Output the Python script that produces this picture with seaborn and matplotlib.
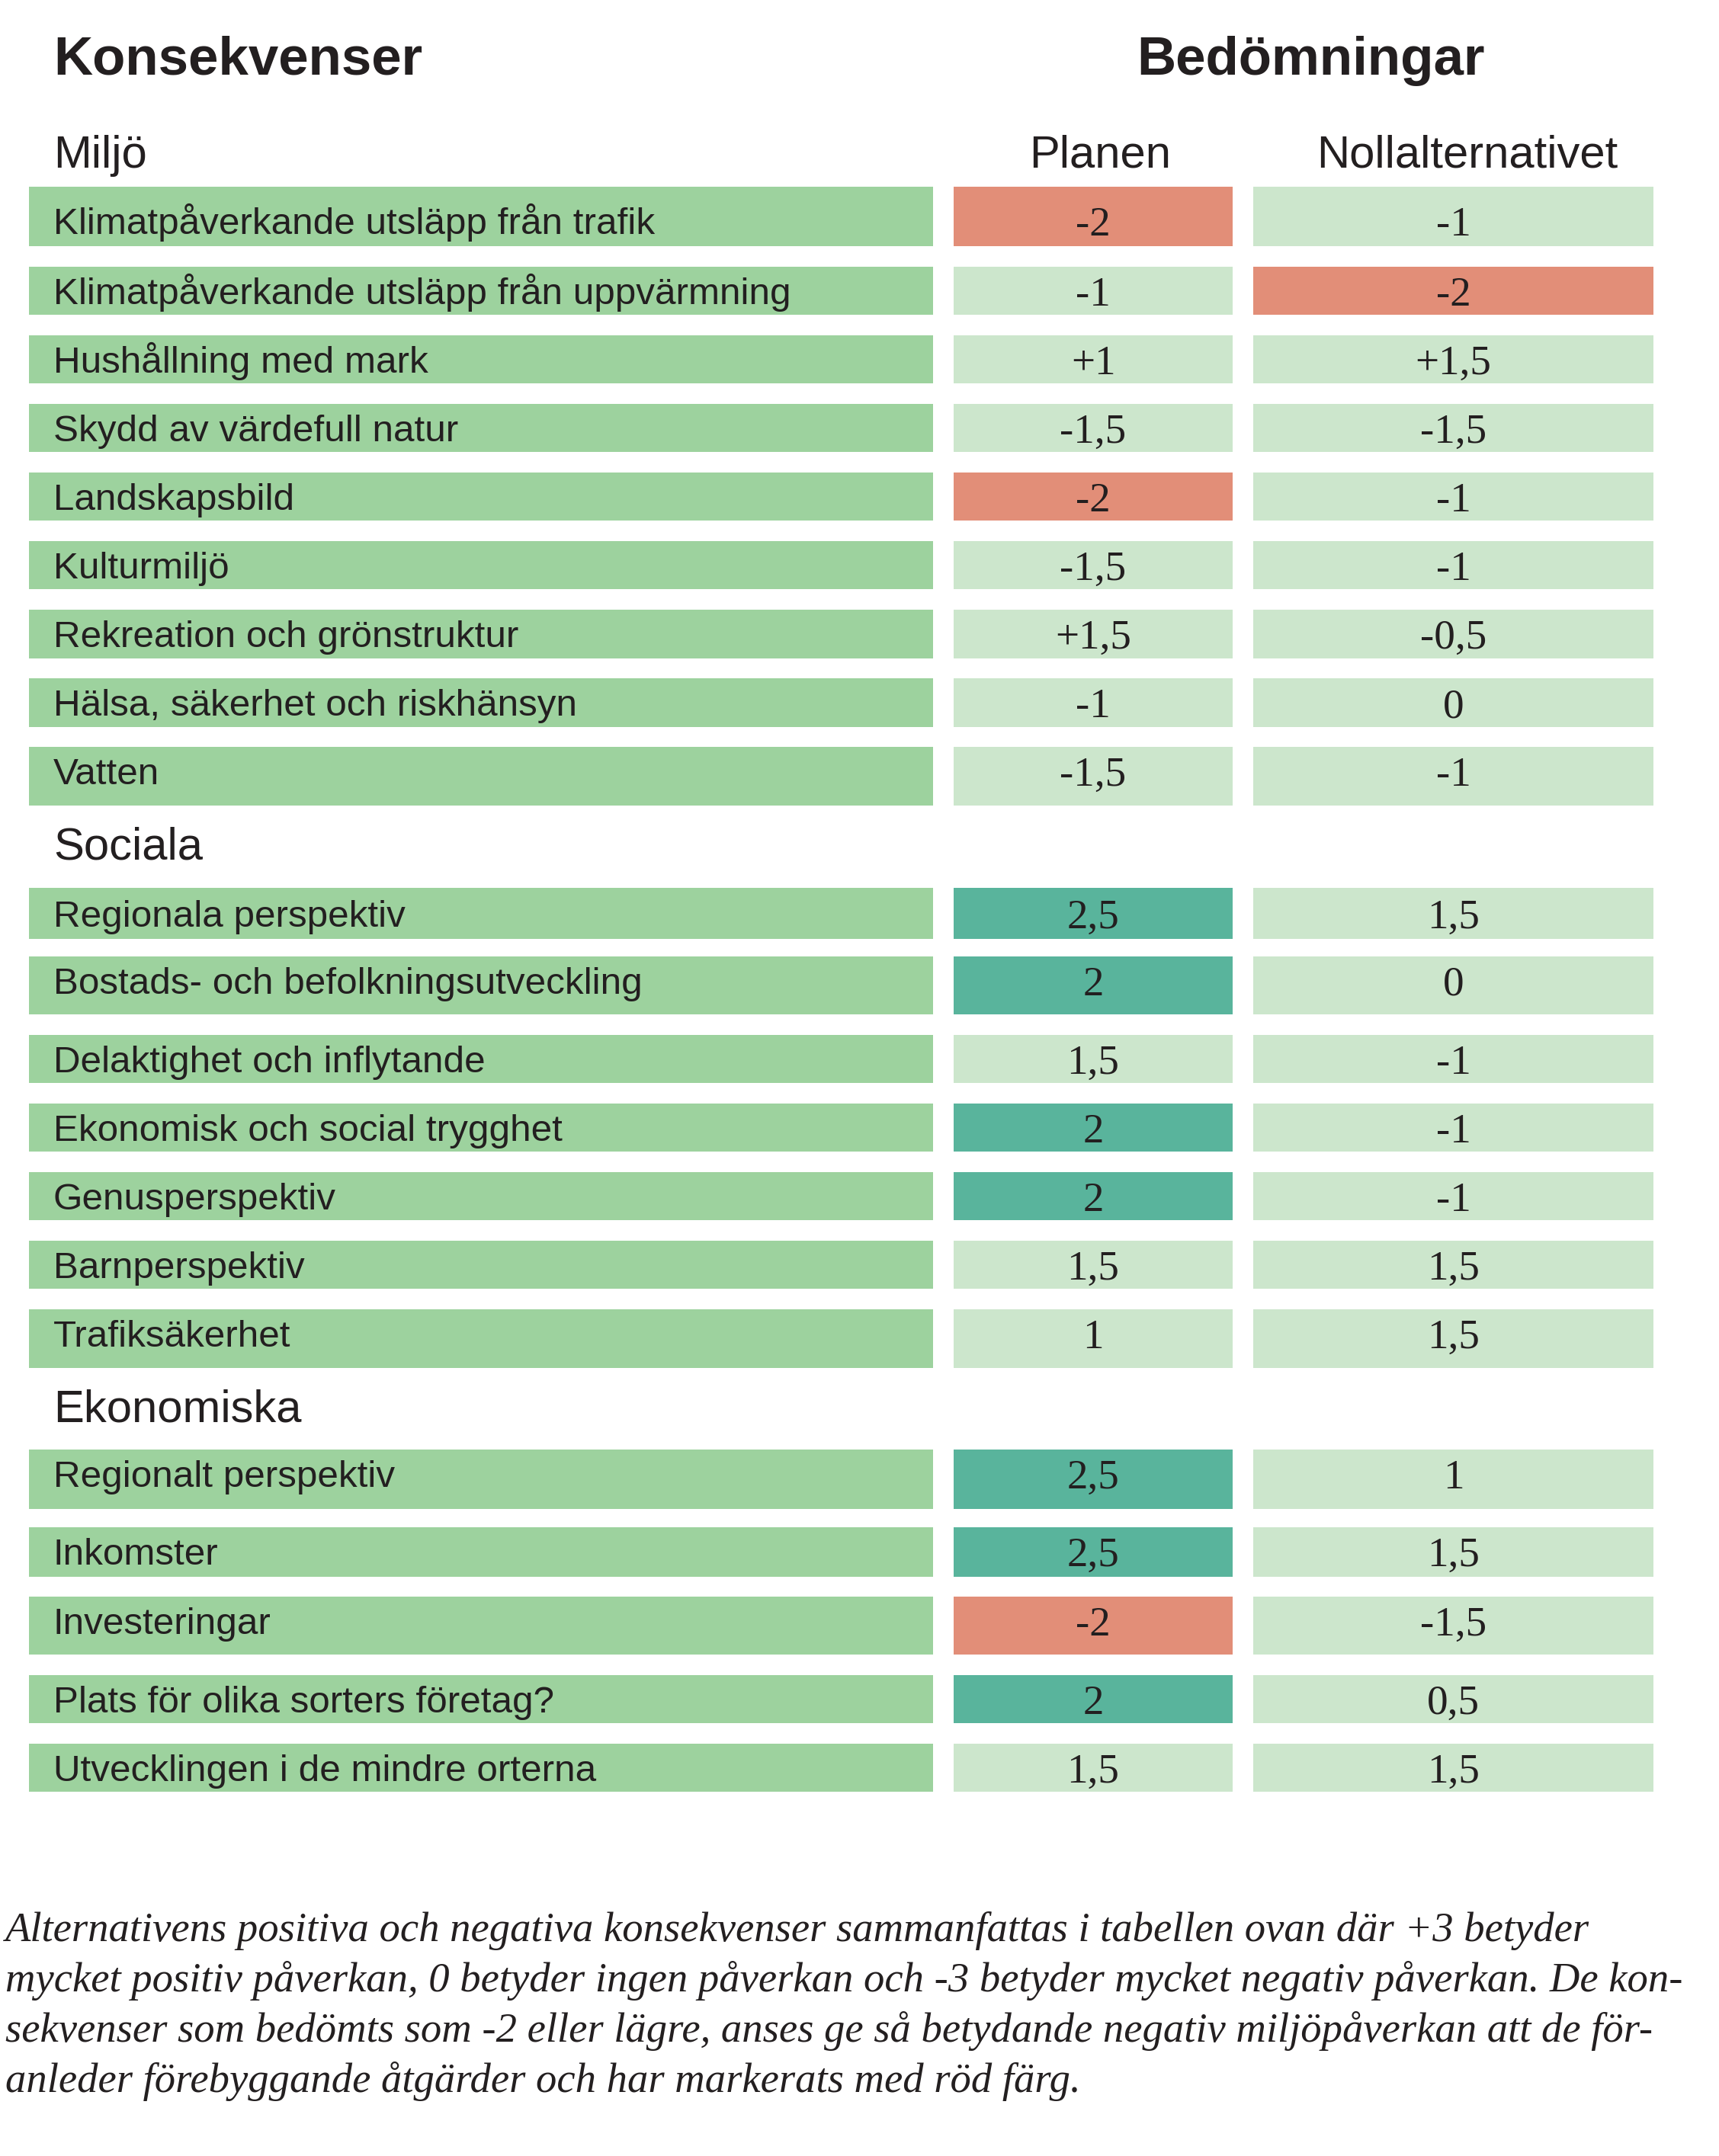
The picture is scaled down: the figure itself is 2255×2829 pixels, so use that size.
import numpy as np
import pandas as pd
import matplotlib
matplotlib.use("Agg")
import matplotlib.pyplot as plt
import seaborn as sns

# --- data -----------------------------------------------------------------
title_left = "Konsekvenser"
title_right = "Bedömningar"
columns = ["Planen", "Nollalternativet"]
sections = ["Miljö", "Sociala", "Ekonomiska"]

labels = [
    "Klimatpåverkande utsläpp från trafik",
    "Klimatpåverkande utsläpp från uppvärmning",
    "Hushållning med mark",
    "Skydd av värdefull natur",
    "Landskapsbild",
    "Kulturmiljö",
    "Rekreation och grönstruktur",
    "Hälsa, säkerhet och riskhänsyn",
    "Vatten",
    "Regionala perspektiv",
    "Bostads- och befolkningsutveckling",
    "Delaktighet och inflytande",
    "Ekonomisk och social trygghet",
    "Genusperspektiv",
    "Barnperspektiv",
    "Trafiksäkerhet",
    "Regionalt perspektiv",
    "Inkomster",
    "Investeringar",
    "Plats för olika sorters företag?",
    "Utvecklingen i de mindre orterna",
]
planen = ["-2", "-1", "+1", "-1,5", "-2", "-1,5", "+1,5", "-1", "-1,5",
          "2,5", "2", "1,5", "2", "2", "1,5", "1",
          "2,5", "2,5", "-2", "2", "1,5"]
nollalt = ["-1", "-2", "+1,5", "-1,5", "-1", "-1", "-0,5", "0", "-1",
           "1,5", "0", "-1", "-1", "-1", "1,5", "1,5",
           "1", "1,5", "-1,5", "0,5", "1,5"]

footnote = [
    "Alternativens positiva och negativa konsekvenser sammanfattas i tabellen ovan där +3 betyder",
    "mycket positiv påverkan, 0 betyder ingen påverkan och -3 betyder mycket negativ påverkan. De kon-",
    "sekvenser som bedömts som -2 eller lägre, anses ge så betydande negativ miljöpåverkan att de för-",
    "anleder förebyggande åtgärder och har markerats med röd färg.",
]

df = pd.DataFrame({"label": labels, "Planen": planen, "Nollalternativet": nollalt})

# --- layout (pixels) --------------------------------------------------------
W, H = 2255, 2829
row_h = np.array([78, 63, 63, 63, 63, 63, 64, 64, 77,
                  67, 76, 63, 63, 63, 63, 77,
                  78, 65, 76, 63, 63])
gap_before = np.array([245, 27, 27, 27, 27, 27, 27, 26, 26,
                       108, 23, 27, 27, 27, 27, 27,
                       107, 24, 26, 27, 27])
row_top = np.cumsum(gap_before + np.r_[0, row_h[:-1]])
# text sits at a fixed distance below the top of each row
text_pad = np.full(len(row_h), 49)
text_pad[0] = 62
text_pad[9] = 51
text_base = row_top + text_pad
section_base = [220, 1127, 1865]

label_x = (38, 1224)
col_x = [(1251, 1617), (1644, 2169)]
head_x = [1443, 1925]

ink = "#231f20"
c_label = "#9dd29e"
c_light = "#cce6cc"
c_red = "#e28e78"
c_teal = "#59b49c"

def cell_color(s):
    v = float(s.replace(",", "."))
    if v <= -2:
        return c_red
    if v >= 2:
        return c_teal
    return c_light

sns.set_theme(style="white")
plt.rcParams["font.family"] = ["Liberation Sans", "DejaVu Sans"]

fig = plt.figure(figsize=(W / 100, H / 100), dpi=100)
ax = fig.add_axes([0, 0, 1, 1])
ax.set_xlim(0, W)
ax.set_ylim(H, 0)
ax.axis("off")

# label column
ax.barh(row_top, label_x[1] - label_x[0], height=row_h, left=label_x[0],
        align="edge", color=c_label, linewidth=0)
for yb, t in zip(text_base, df["label"]):
    ax.text(70, yb, t, fontsize=35.6, color=ink, va="baseline", ha="left")

# value columns
serif = ["Liberation Serif", "DejaVu Serif"]
for (x0, x1), col, hx in zip(col_x, columns, head_x):
    vals = df[col]
    ax.barh(row_top, x1 - x0, height=row_h, left=x0, align="edge",
            color=[cell_color(v) for v in vals], linewidth=0)
    for yb, v in zip(text_base, vals):
        ax.text((x0 + x1) / 2, yb + 2, v, fontsize=39.6, family=serif,
                color=ink, ha="center", va="baseline")
    ax.text(hx, 220, col, fontsize=43, color=ink, ha="center", va="baseline")

# titles and section headings
ax.text(70, 98, title_left, fontsize=51, fontweight="bold", color=ink, va="baseline")
ax.text(1720, 98, title_right, fontsize=51, fontweight="bold", color=ink,
        ha="center", va="baseline")
for yb, s in zip(section_base, sections):
    ax.text(70, yb, s, fontsize=43, color=ink, va="baseline")

# footnote
for i, line in enumerate(footnote):
    ax.text(7, 2547 + 66 * i, line, fontsize=39.3, family=serif, style="italic",
            color=ink, va="baseline")

fig.savefig("out.png", dpi=100, facecolor="white")
